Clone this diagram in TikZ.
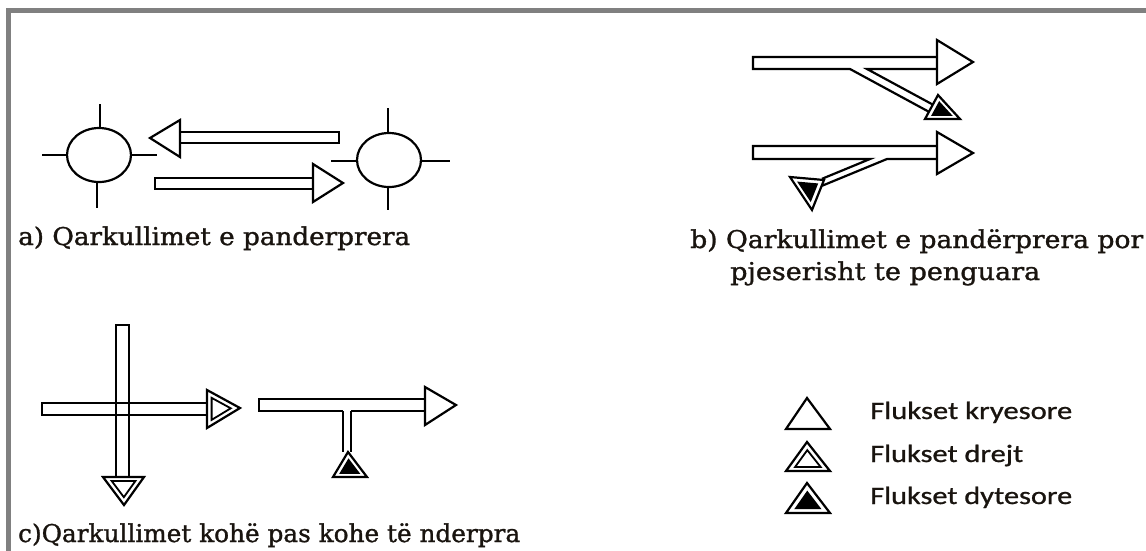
\documentclass[tikz,border=0pt]{standalone}
\usepackage{fontspec}
\setmainfont{DejaVu Serif}
\newfontfamily\lblfont[FakeBold=1.2]{DejaVu Serif}
\newfontfamily\legfont[FakeBold=0.8]{Carlito}
\usetikzlibrary{calc}
\definecolor{framegray}{RGB}{128,128,128}
\definecolor{txt}{RGB}{25,20,15}
\tikzset{
  shp/.style={draw=black, line width=2.2pt, line join=miter},
  frm/.style={draw=framegray, line width=5pt},
  lbl/.style={anchor=base west, inner sep=0pt, text=txt},
}
\newcommand{\lbltext}[2]{\resizebox{#1}{\height}{\lblfont\fontsize{24.5}{28}\selectfont #2}}
\newcommand{\legtext}[2]{\resizebox{#1}{\height}{\legfont\fontsize{25}{29}\selectfont #2}}
% main flux triangle: outline only
\newcommand{\maintri}[3]{\draw[shp, fill=white] #1 -- #2 -- #3 -- cycle;}
% direct flux: double outline
\newcommand{\directtri}[3]{%
  \draw[shp, fill=white] #1 -- #2 -- #3 -- cycle;
  \coordinate (fc) at ($0.3333*#1+0.3333*#2+0.3334*#3$);
  \draw[shp, line width=1.8pt] ($(fc)!0.58!#1$) -- ($(fc)!0.58!#2$) -- ($(fc)!0.58!#3$) -- cycle;}
% secondary flux: outline with black filled inner
\newcommand{\sectri}[3]{%
  \draw[shp, fill=white] #1 -- #2 -- #3 -- cycle;
  \coordinate (fc) at ($0.3333*#1+0.3333*#2+0.3334*#3$);
  \fill[black] ($(fc)!0.62!#1$) -- ($(fc)!0.62!#2$) -- ($(fc)!0.62!#3$) -- cycle;}
\begin{document}
\begin{tikzpicture}[x=1pt, y=-1pt]
\useasboundingbox (0,0) rectangle (1146,550);
% frame
\draw[frm, line join=miter] (1150,10) -- (8.5,10) -- (8.5,554);

% ---------- a) ----------
\draw[shp] (99,155) ellipse [x radius=32pt, y radius=27pt];
\draw[shp] (100,104) -- (100,128);
\draw[shp] (97,182) -- (97,208);
\draw[shp] (42,155) -- (67,155);
\draw[shp] (131,155) -- (157,155);
\draw[shp] (389,160) ellipse [x radius=32pt, y radius=27pt];
\draw[shp] (388,108) -- (388,133);
\draw[shp] (388,187) -- (388,210);
\draw[shp] (331,161) -- (357,161);
\draw[shp] (421,161) -- (450,161);
% left-pointing arrow
\draw[shp] (180,132) rectangle (339,143);
\maintri{(180,120)}{(150,138)}{(180,157)}
% right-pointing arrow
\draw[shp] (155,178) rectangle (313,189);
\maintri{(313,164)}{(343,183)}{(313,202)}
\node[lbl] (la) at (18,245) {\lbltext{392pt}{a) Qarkullimet e panderprera}};

% ---------- b) ----------
\draw[shp] (937,57) -- (753,57) -- (753,69) -- (850,69) -- (928.9,111.8);
\draw[shp] (932.8,104.6) -- (867,69) -- (937,69);
\maintri{(937,40)}{(973,62)}{(937,84)}
\sectri{(925,119)}{(960,119)}{(938,95)}

\draw[shp] (937,146) -- (753,146) -- (753,159) -- (870,159) -- (822,178.8);
\draw[shp] (822,185.8) -- (887,159) -- (937,159);
\maintri{(937,132)}{(973,153)}{(937,174)}
\sectri{(790,177)}{(824,180)}{(812,210)}
\node[lbl] (lb1) at (690,248) {\lbltext{453pt}{b) Qarkullimet e pandërprera por}};
\node[lbl] (lb2) at (730,280) {\lbltext{310pt}{pjeserisht te penguara}};

% ---------- c) ----------
\draw[shp] (42,403) rectangle (207,415);
\draw[shp] (116,325) rectangle (129,477);
\directtri{(207,390)}{(240,408)}{(207,428)}
\directtri{(103,477)}{(144,477)}{(124,505)}

\draw[shp] (343,411) -- (259,411) -- (259,399) -- (425,399) -- (425,411) -- (351,411);
\draw[shp] (343,411) -- (343,452);
\draw[shp] (351,411) -- (351,452);
\maintri{(425,387)}{(456,405)}{(425,425)}
\sectri{(333,477)}{(367,477)}{(348,452)}
\node[lbl] (lc) at (18,542) {\lbltext{502pt}{c)Qarkullimet kohë pas kohe të nderpra}};

% ---------- legend ----------
\maintri{(786,429)}{(830,429)}{(807,398)}
\directtri{(786,471)}{(830,471)}{(807,442)}
\sectri{(786,513)}{(830,513)}{(807,483)}
\node[lbl] (l1) at (870,419) {\legtext{202pt}{Flukset kryesore}};
\node[lbl] (l2) at (870,462) {\legtext{153pt}{Flukset drejt}};
\node[lbl] (l3) at (870,504) {\legtext{202pt}{Flukset dytesore}};
\end{tikzpicture}
\end{document}
